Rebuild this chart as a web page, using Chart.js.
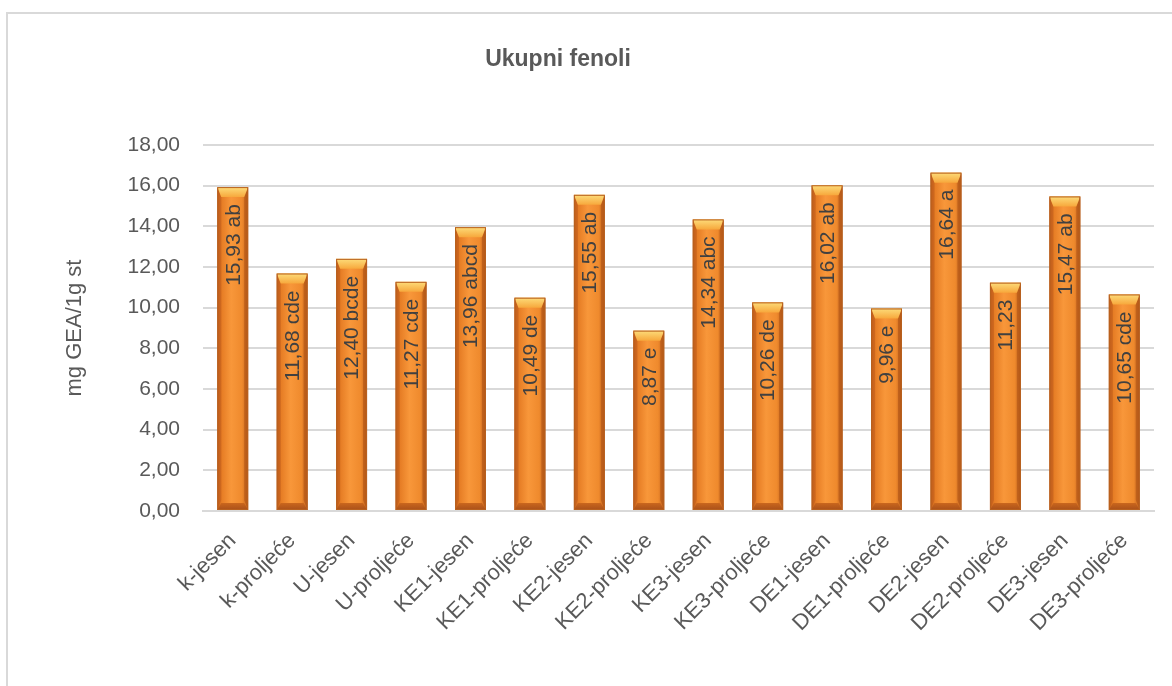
<!DOCTYPE html>
<html lang="hr">
<head>
    <meta charset="UTF-8">
    <title>Ukupni fenoli</title>
    <script src="https://cdn.jsdelivr.net/npm/chart.js"></script>
    <style>
        body {
            margin: 0;
            background: #ffffff;
            overflow: hidden;
        }
        .wrap {
            position: relative;
            width: 1172px;
            height: 686px;
        }
        .frame {
            position: absolute;
            left: 6px;
            top: 12px;
            width: 1200px;
            height: 700px;
            border-left: 2px solid #d9d9d9;
            border-top: 2px solid #d9d9d9;
        }
        canvas {
            position: absolute;
            left: 0;
            top: 0;
        }
    </style>
</head>
<body>
<div class="wrap">
    <div class="frame"></div>
    <canvas id="fenoli" width="1172" height="686"></canvas>
</div>
<script>
    // podaci
    const categories = ['k-jesen', 'k-proljeće', 'U-jesen', 'U-proljeće', 'KE1-jesen', 'KE1-proljeće',
        'KE2-jesen', 'KE2-proljeće', 'KE3-jesen', 'KE3-proljeće', 'DE1-jesen', 'DE1-proljeće',
        'DE2-jesen', 'DE2-proljeće', 'DE3-jesen', 'DE3-proljeće'];
    const values = [15.93, 11.68, 12.40, 11.27, 13.96, 10.49, 15.55, 8.87,
        14.34, 10.26, 16.02, 9.96, 16.64, 11.23, 15.47, 10.65];
    const letters = ['ab', 'cde', 'bcde', 'cde', 'abcd', 'de', 'ab', 'e',
        'abc', 'de', 'ab', 'e', 'a', '', 'ab', 'cde'];
    const yTicks = [0, 2, 4, 6, 8, 10, 12, 14, 16, 18];

    const fmt = v => v.toFixed(2).replace('.', ',');
    const FONT = '"Liberation Sans", Arial, sans-serif';

    // 3D izgled stupaca + oznake
    const bevelBars = {
        id: 'bevelBars',
        afterDatasetsDraw(chart) {
            const ctx = chart.ctx;
            const meta = chart.getDatasetMeta(0);
            meta.data.forEach((bar, i) => {
                const w = bar.width;
                const l = bar.x - w / 2, r = bar.x + w / 2;
                const t = bar.y, b = bar.base;
                const bv = 10;
                ctx.save();
                const g = ctx.createLinearGradient(l, 0, r, 0);
                g.addColorStop(0, '#c05f1c');
                g.addColorStop(0.15, '#e67d25');
                g.addColorStop(0.45, '#f8973a');
                g.addColorStop(0.8, '#ef8a2d');
                g.addColorStop(1, '#bf5e1c');
                ctx.fillStyle = g;
                ctx.fillRect(l, t, w, b - t);

                // bočne strane
                ctx.fillStyle = 'rgba(190,90,25,0.5)';
                ctx.beginPath();
                ctx.moveTo(l, t); ctx.lineTo(l + bv * 0.4, t + bv);
                ctx.lineTo(l + bv * 0.4, b - bv); ctx.lineTo(l, b);
                ctx.closePath(); ctx.fill();
                ctx.fillStyle = 'rgba(170,80,20,0.55)';
                ctx.beginPath();
                ctx.moveTo(r, t); ctx.lineTo(r - bv * 0.4, t + bv);
                ctx.lineTo(r - bv * 0.4, b - bv); ctx.lineTo(r, b);
                ctx.closePath(); ctx.fill();

                // vrh
                const tg = ctx.createLinearGradient(0, t, 0, t + bv);
                tg.addColorStop(0, '#fddc7a');
                tg.addColorStop(1, '#f7a83c');
                ctx.fillStyle = tg;
                ctx.beginPath();
                ctx.moveTo(l, t); ctx.lineTo(r, t);
                ctx.lineTo(r - bv * 0.4, t + bv); ctx.lineTo(l + bv * 0.4, t + bv);
                ctx.closePath(); ctx.fill();

                // dno
                const bg = ctx.createLinearGradient(0, b - bv, 0, b);
                bg.addColorStop(0, '#d8701f');
                bg.addColorStop(1, '#a9501a');
                ctx.fillStyle = bg;
                ctx.beginPath();
                ctx.moveTo(l, b); ctx.lineTo(r, b);
                ctx.lineTo(r - bv * 0.4, b - bv * 0.7); ctx.lineTo(l + bv * 0.4, b - bv * 0.7);
                ctx.closePath(); ctx.fill();

                ctx.strokeStyle = '#b8611f';
                ctx.lineWidth = 1;
                ctx.strokeRect(l + 0.5, t + 0.5, w - 1, b - t - 1);

                // oznaka vrijednosti
                const label = (fmt(values[i]) + ' ' + letters[i]).trim();
                ctx.translate(bar.x, t + 17);
                ctx.rotate(-Math.PI / 2);
                ctx.font = '21px ' + FONT;
                ctx.fillStyle = '#404040';
                ctx.textAlign = 'right';
                ctx.textBaseline = 'middle';
                ctx.fillText(label, 0, 1);
                ctx.restore();
            });
        },
        afterDraw(chart) {
            const ctx = chart.ctx;
            ctx.save();
            ctx.font = 'bold 23px ' + FONT;
            ctx.fillStyle = '#595959';
            ctx.textAlign = 'center';
            ctx.textBaseline = 'middle';
            ctx.fillText('Ukupni fenoli', 558, 60);
            ctx.restore();
        }
    };

    const ctx = document.getElementById('fenoli').getContext('2d');
    new Chart(ctx, {
        type: 'bar',
        data: {
            labels: categories,
            datasets: [{
                data: values,
                backgroundColor: 'rgba(0,0,0,0)',
                borderWidth: 0,
                barPercentage: 0.52,
                categoryPercentage: 1.0
            }]
        },
        options: {
            responsive: false,
            animation: false,
            layout: {
                padding: { left: 62, right: 18, top: 145, bottom: 0 }
            },
            plugins: {
                legend: { display: false },
                tooltip: { enabled: false }
            },
            scales: {
                y: {
                    min: 0,
                    max: 18,
                    afterFit: scale => { scale.width = 141; },
                    afterBuildTicks: scale => {
                        scale.ticks = yTicks.map(v => ({ value: v }));
                    },
                    ticks: {
                        padding: 23,
                        color: '#595959',
                        font: { family: FONT, size: 21 },
                        callback: v => fmt(v)
                    },
                    grid: {
                        color: '#d9d9d9',
                        lineWidth: 2,
                        drawTicks: false
                    },
                    border: { display: false },
                    title: {
                        display: true,
                        text: 'mg GEA/1g st',
                        color: '#595959',
                        font: { family: FONT, size: 22 },
                        padding: { top: 0, bottom: 0 }
                    }
                },
                x: {
                    afterFit: scale => { scale.height = 175; },
                    ticks: {
                        minRotation: 45,
                        maxRotation: 45,
                        padding: 17,
                        color: '#595959',
                        font: { family: FONT, size: 22 }
                    },
                    grid: { display: false, drawTicks: false },
                    border: { color: '#d9d9d9', width: 2 }
                }
            }
        },
        plugins: [bevelBars]
    });
</script>
</body>
</html>
